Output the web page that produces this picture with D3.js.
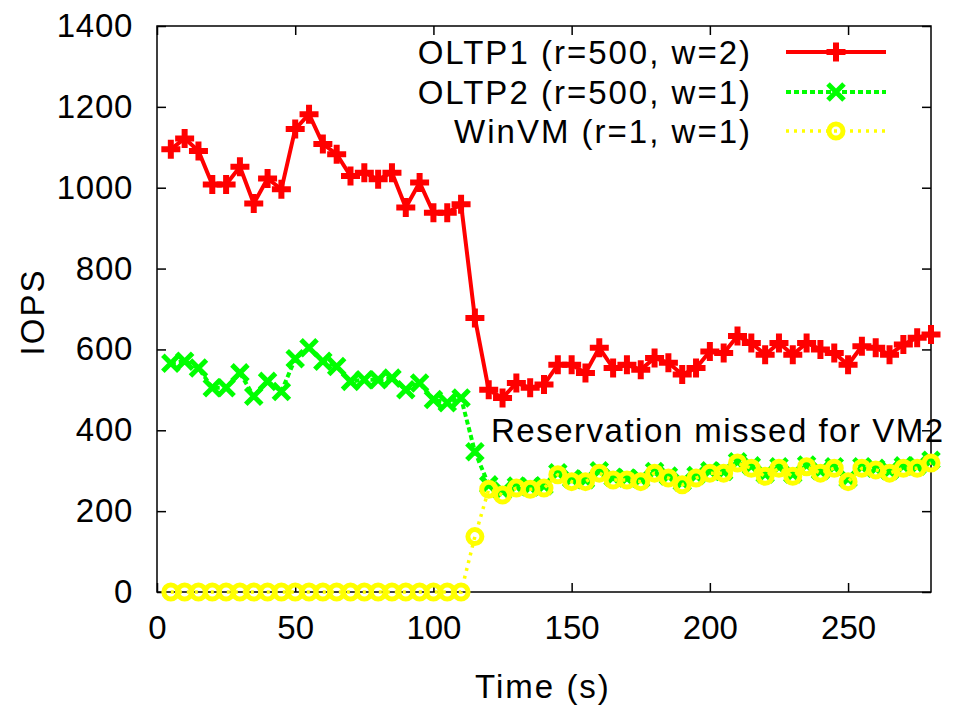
<!DOCTYPE html>
<html>
<head>
<meta charset="utf-8">
<script src="https://cdn.jsdelivr.net/npm/d3@7"></script>
<style>
  body { margin: 0; background: #fff; }
  text { font-family: "Liberation Sans", Arial, sans-serif; fill: #000; }
  .word { letter-spacing: 2px; }
</style>
</head>
<body>
<svg id="chart" width="955" height="705"></svg>
<script>
// sample times (s)
const times = [5, 10, 15, 20, 25, 30, 35, 40, 45, 50, 55, 60, 65, 70, 75, 80, 85, 90, 95, 100,
    105, 110, 115, 120, 125, 130, 135, 140, 145, 150, 155, 160, 165, 170, 175, 180, 185, 190, 195, 200,
    205, 210, 215, 220, 225, 230, 235, 240, 245, 250, 255, 260, 265, 270, 275, 280];

const oltp1 = [1095, 1122, 1091, 1008, 1008, 1052, 961, 1023, 996, 1145,
    1182, 1108, 1083, 1029, 1037, 1021, 1037, 951, 1013, 938,
    938, 959, 678, 500, 480, 517, 505, 513, 562, 562,
    542, 604, 554, 562, 550, 579, 567, 538, 554, 595,
    591, 633, 616, 587, 616, 587, 616, 600, 591, 562,
    608, 604, 587, 612, 629, 637];

const oltp2 = [566, 571, 554, 505, 505, 542, 484, 521, 496, 577,
    604, 571, 558, 521, 525, 525, 529, 500, 517, 476,
    468, 480, 347, 265, 250, 262, 260, 263, 295, 280,
    278, 300, 284, 282, 280, 298, 287, 272, 288, 300,
    298, 322, 312, 292, 310, 292, 314, 300, 310, 280,
    310, 306, 300, 312, 312, 326];

const winvm = [0, 0, 0, 0, 0, 0, 0, 0, 0, 0,
    0, 0, 0, 0, 0, 0, 0, 0, 0, 0,
    0, 0, 137, 254, 240, 257, 254, 257, 290, 273,
    273, 294, 277, 277, 273, 294, 282, 265, 282, 294,
    294, 319, 306, 286, 306, 286, 310, 294, 306, 273,
    306, 302, 294, 306, 306, 319];

const seriesNames = ["OLTP1 (r=500, w=2)", "OLTP2 (r=500, w=1)", "WinVM (r=1, w=1)"];
const xTicks = [0, 50, 100, 150, 200, 250];
const yTicks = [0, 200, 400, 600, 800, 1000, 1200, 1400];

const plotLeft = 157, plotRight = 931, plotTop = 26, plotBottom = 592;
const svg = d3.select("#chart");

const x = d3.scaleLinear().domain([0, 280]).range([plotLeft, plotRight]);
const y = d3.scaleLinear().domain([0, 1400]).range([plotBottom, plotTop]);

// axes: ticks point inward on all four sides
const tick = 9;
svg.append("g").attr("transform", `translate(0,${plotBottom})`)
    .call(d3.axisBottom(x).tickValues(xTicks).tickFormat(d3.format("d"))
        .tickSizeInner(-tick).tickSizeOuter(0).tickPadding(24))
    .call(g => g.select(".domain").remove())
    .call(g => g.selectAll("text").attr("font-size", 33).attr("dy", "0.71em"));
svg.append("g").attr("transform", `translate(0,${plotTop})`)
    .call(d3.axisTop(x).tickValues(xTicks).tickSizeInner(-tick).tickSizeOuter(0).tickFormat(""))
    .call(g => g.select(".domain").remove());
svg.append("g").attr("transform", `translate(${plotLeft},0)`)
    .call(d3.axisLeft(y).tickValues(yTicks).tickFormat(d3.format("d"))
        .tickSizeInner(-tick).tickSizeOuter(0).tickPadding(24))
    .call(g => g.select(".domain").remove())
    .call(g => g.selectAll("text").attr("font-size", 33).style("letter-spacing", "0.7px"));
svg.append("g").attr("transform", `translate(${plotRight},0)`)
    .call(d3.axisRight(y).tickValues(yTicks).tickSizeInner(-tick).tickSizeOuter(0).tickFormat(""))
    .call(g => g.select(".domain").remove());
svg.selectAll(".tick line").attr("stroke", "#000").attr("stroke-width", 1.5);

svg.append("rect")
    .attr("x", plotLeft).attr("y", plotTop)
    .attr("width", plotRight - plotLeft).attr("height", plotBottom - plotTop)
    .attr("fill", "none").attr("stroke", "#000").attr("stroke-width", 1.5);

// series
const styles = [
    { data: oltp1, color: "#ff0000", width: 4, dash: null, marker: "plus" },
    { data: oltp2, color: "#00ff00", width: 4, dash: "5,3", marker: "cross" },
    { data: winvm, color: "#ffff00", width: 3.5, dash: "3,5", marker: "circle" }
];

const line = d3.line().x((d, i) => x(times[i])).y(d => y(d));

function drawMarker(g, type, color) {
    if (type === "plus") {
        g.append("path").attr("d", "M-9.5,0H9.5M0,-9.5V9.5")
            .attr("stroke", color).attr("stroke-width", 6).attr("fill", "none");
    } else if (type === "cross") {
        g.append("path").attr("d", "M-8,-8L8,8M-8,8L8,-8")
            .attr("stroke", color).attr("stroke-width", 5).attr("fill", "none");
    } else {
        g.append("circle").attr("r", 7)
            .attr("stroke", color).attr("stroke-width", 5).attr("fill", "none");
    }
}

styles.forEach(s => {
    svg.append("path").datum(s.data)
        .attr("d", line)
        .attr("fill", "none")
        .attr("stroke", s.color)
        .attr("stroke-width", s.width)
        .attr("stroke-dasharray", s.dash);
    svg.append("g").selectAll("g").data(s.data).join("g")
        .attr("transform", (d, i) => `translate(${x(times[i])},${y(d)})`)
        .each(function() { drawMarker(d3.select(this), s.marker, s.color); });
});

// legend
const legendRows = [52, 92, 131];
seriesNames.forEach((name, i) => {
    const s = styles[i];
    const ly = legendRows[i];
    svg.append("text").attr("class", "word").attr("x", 752).attr("y", ly).attr("dy", "0.35em")
        .attr("text-anchor", "end").attr("font-size", 33).text(name);
    svg.append("line").attr("x1", 786).attr("x2", 886).attr("y1", ly).attr("y2", ly)
        .attr("stroke", s.color).attr("stroke-width", s.width).attr("stroke-dasharray", s.dash);
    drawMarker(svg.append("g").attr("transform", `translate(836,${ly})`), s.marker, s.color);
});

// annotation
svg.append("text").attr("x", 491).attr("y", 442).attr("font-size", 33)
    .style("letter-spacing", "1.5px")
    .text("Reservation missed for VM2");

// axis titles
svg.append("text").attr("class", "word").attr("x", 543).attr("y", 698).attr("text-anchor", "middle")
    .attr("font-size", 33).text("Time (s)");
svg.append("text").attr("class", "word").attr("transform", "translate(44,312) rotate(-90)")
    .attr("text-anchor", "middle").attr("font-size", 33).text("IOPS");
</script>
</body>
</html>
